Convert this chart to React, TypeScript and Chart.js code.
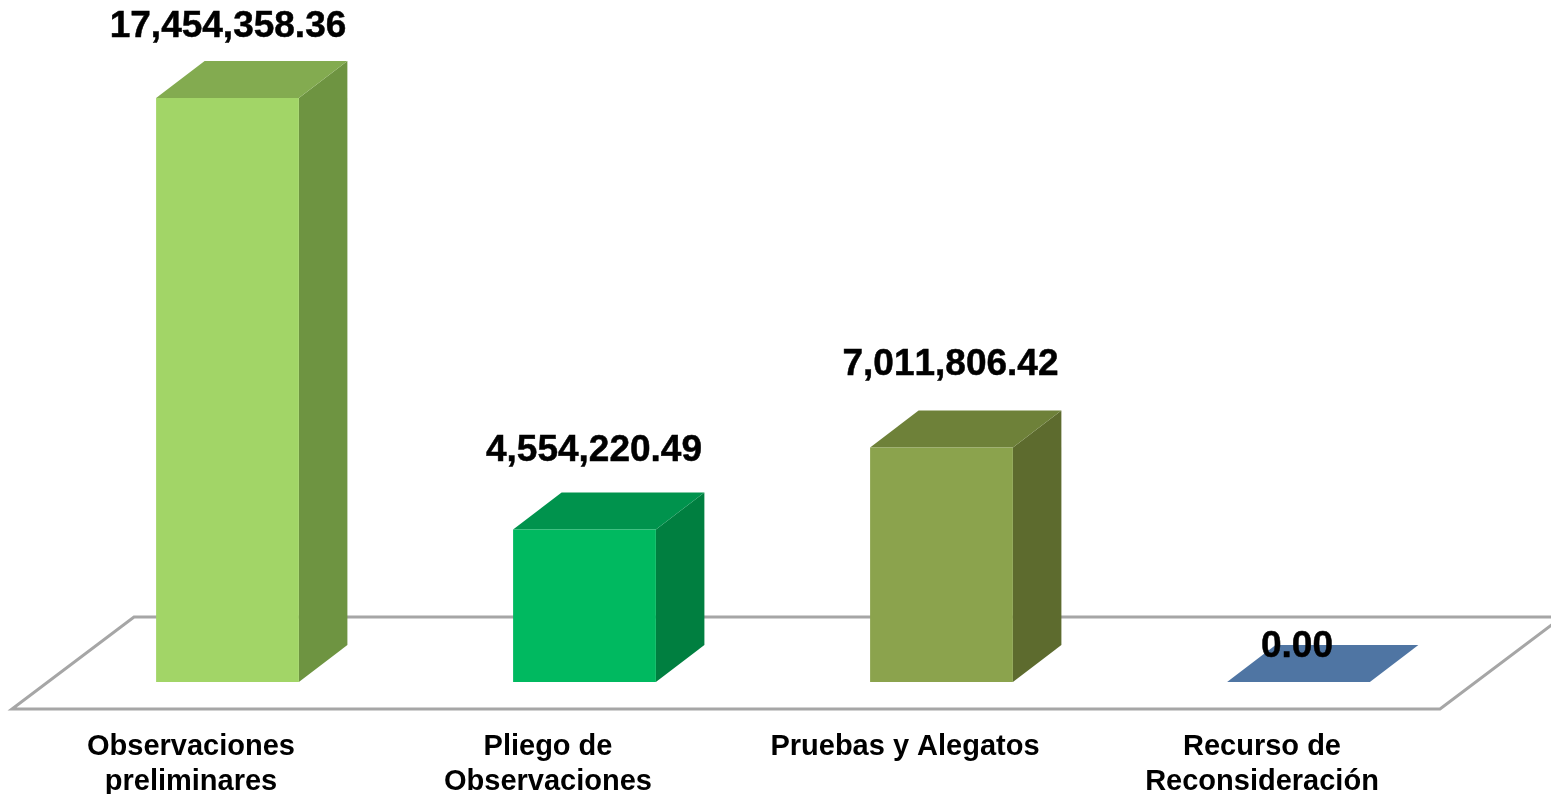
import React, { useEffect, useRef } from "react";
import { Chart, registerables } from "chart.js";

Chart.register(...registerables);

const categories = [
  ["Observaciones", "preliminares"],
  ["Pliego de", "Observaciones"],
  "Pruebas y Alegatos",
  ["Recurso de", "Reconsideración"],
];
const amounts = [17454358.36, 4554220.49, 7011806.42, 0];
const frontColors = ["#A2D567", "#00B960", "#8BA34D", "#4F75A3"];
const topColors = ["#83AB50", "#00934D", "#6E8139", "#4F75A3"];
const sideColors = ["#6E9441", "#007F40", "#5D6B2E", "#3F5E85"];
const labelShiftX = [0.5, 9.5, 9, -1.5];
const labelShiftY = [-71, -78.5, -82.5, -35];

const FONT = '"Liberation Sans", Arial, sans-serif';
const DEPTH_X = 48.5;
const DEPTH_Y = 37;

function poly(ctx: CanvasRenderingContext2D, pts: number[][], fill: string) {
  ctx.beginPath();
  pts.forEach(([x, y], i) => (i ? ctx.lineTo(x, y) : ctx.moveTo(x, y)));
  ctx.closePath();
  ctx.fillStyle = fill;
  ctx.fill();
}

const box3d = {
  id: "box3d",
  beforeDatasetsDraw(chart: any) {
    const { ctx, chartArea } = chart;
    const fl = chartArea.left - 37;
    const fr = chartArea.right - 37;
    const fy = chartArea.bottom + 27;
    ctx.save();
    ctx.strokeStyle = "#A6A6A6";
    ctx.lineWidth = 3;
    ctx.lineJoin = "miter";
    ctx.beginPath();
    ctx.moveTo(fr + 122, fy - 92);
    ctx.lineTo(fl + 122, fy - 92);
    ctx.lineTo(fl, fy);
    ctx.lineTo(fr, fy);
    ctx.lineTo(fr + 122, fy - 92);
    ctx.stroke();

    chart.getDatasetMeta(0).data.forEach((bar: any, i: number) => {
      const { x, y, base, width } = bar.getProps(["x", "y", "base", "width"], true);
      const l = x - width / 2;
      const r = x + width / 2;
      if (base - y > 0.5) {
        poly(ctx, [[r, y], [r + DEPTH_X, y - DEPTH_Y], [r + DEPTH_X, base - DEPTH_Y], [r, base]], sideColors[i]);
      }
      poly(ctx, [[l, y], [l + DEPTH_X, y - DEPTH_Y], [r + DEPTH_X, y - DEPTH_Y], [r, y]], topColors[i]);
    });
    ctx.restore();
  },
  afterDatasetsDraw(chart: any) {
    const { ctx } = chart;
    ctx.save();
    ctx.font = `bold 37px ${FONT}`;
    (ctx as any).fontKerning = "none";
    ctx.fillStyle = "#000000";
    ctx.strokeStyle = "#000000";
    ctx.lineWidth = 0.5;
    ctx.textAlign = "center";
    ctx.textBaseline = "middle";
    chart.getDatasetMeta(0).data.forEach((bar: any, i: number) => {
      const { x, y } = bar.getProps(["x", "y"], true);
      const text = amounts[i].toLocaleString("en-US", {
        minimumFractionDigits: 2,
        maximumFractionDigits: 2,
      });
      ctx.fillText(text, x + labelShiftX[i], y + labelShiftY[i]);
      ctx.strokeText(text, x + labelShiftX[i], y + labelShiftY[i]);
    });
    ctx.restore();
  },
};

export default function App() {
  const ref = useRef<HTMLCanvasElement>(null);
  useEffect(() => {
    const chart = new Chart(ref.current!, {
      type: "bar",
      data: {
        labels: categories as any,
        datasets: [
          {
            data: amounts,
            backgroundColor: frontColors,
            borderWidth: 0,
            barPercentage: 0.4,
            categoryPercentage: 1,
          },
        ],
      },
      options: {
        animation: false,
        responsive: false,
        layout: { padding: { left: 49, right: 74, top: 79.7, bottom: 0 } },
        plugins: { legend: { display: false }, tooltip: { enabled: false } },
        scales: {
          y: { display: false, min: 0, max: 18000000 },
          x: {
            afterFit(scale: any) {
              scale.height = 112;
            },
            border: { display: false },
            grid: { display: false, drawTicks: false },
            ticks: {
              autoSkip: false,
              maxRotation: 0,
              minRotation: 0,
              labelOffset: -36.5,
              padding: 48,
              color: "#000000",
              font: { family: FONT, size: 29, weight: "bold", lineHeight: 1.2 },
            },
          },
        },
      },
      plugins: [box3d],
    } as any);
    return () => chart.destroy();
  }, []);
  return (
    <canvas
      ref={ref}
      width={1551}
      height={794}
      style={{ position: "absolute", left: 0, top: 0, display: "block", width: 1551, height: 794 }}
    />
  );
}
